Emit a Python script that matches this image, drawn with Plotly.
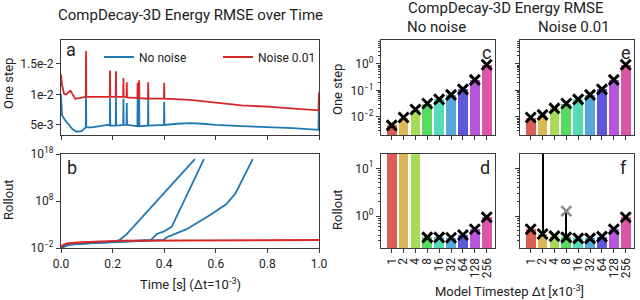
import colorsys
import plotly.graph_objects as go

# ---------------- data ----------------
# Panel a: one-step energy RMSE over time
t_blue_a = [0.0, 0.004, 0.014, 0.03, 0.045, 0.06, 0.08, 0.096, 0.097, 0.098, 0.12, 0.15, 0.18,
            0.189, 0.19, 0.191, 0.212, 0.213, 0.214, 0.241, 0.242, 0.243, 0.254, 0.255, 0.256,
            0.28, 0.296, 0.297, 0.298, 0.302, 0.303, 0.304, 0.337, 0.338, 0.339, 0.399, 0.4, 0.401,
            0.45, 0.5, 0.55, 0.6, 0.7, 0.8, 0.9, 0.998, 1.0]
e_blue_a = [0.0100, 0.0066, 0.0059, 0.0050, 0.0043, 0.0039, 0.0040, 0.0046, 0.0100, 0.0046, 0.0046, 0.0048, 0.0050,
            0.0049, 0.0094, 0.0049, 0.0049, 0.0094, 0.0049, 0.0050, 0.0093, 0.0050, 0.0050, 0.0086, 0.0050,
            0.0049, 0.0048, 0.0093, 0.0048, 0.0048, 0.0093, 0.0048, 0.0049, 0.0093, 0.0049, 0.0050, 0.0088, 0.0050,
            0.0052, 0.0053, 0.0052, 0.0050, 0.0048, 0.0047, 0.0045, 0.0042, 0.0095]
t_red_a = [0.0, 0.004, 0.012, 0.02, 0.03, 0.037, 0.045, 0.055, 0.07, 0.096, 0.097, 0.098,
           0.189, 0.19, 0.191, 0.212, 0.213, 0.214, 0.241, 0.242, 0.243, 0.254, 0.255, 0.256,
           0.296, 0.297, 0.298, 0.302, 0.303, 0.304, 0.337, 0.338, 0.339, 0.399, 0.4, 0.401,
           0.5, 0.55, 0.6, 0.7, 0.8, 0.9, 0.998, 1.0]
e_red_a = [0.0133, 0.0115, 0.0101, 0.0100, 0.0104, 0.0106, 0.0100, 0.0093, 0.0094, 0.0096, 0.0171, 0.0096,
           0.0096, 0.0139, 0.0096, 0.0096, 0.0138, 0.0096, 0.0096, 0.0127, 0.0096, 0.0095, 0.0120, 0.0095,
           0.0094, 0.0119, 0.0094, 0.0094, 0.0123, 0.0094, 0.0093, 0.0120, 0.0093, 0.0093, 0.0119, 0.0093,
           0.0091, 0.0089, 0.0086, 0.0082, 0.0080, 0.0077, 0.0074, 0.0103]

# Panel b: rollout energy RMSE over time
t_red_b = [0.0, 0.01, 0.027, 0.08, 0.23, 0.5, 1.0]
e_red_b = [0.016, 0.05, 0.1, 0.16, 0.35, 0.4, 0.5]
t_blue_b1 = [0.0, 0.03, 0.1, 0.2, 0.227, 0.254, 0.519]
e_blue_b1 = [0.011, 0.05, 0.1, 0.2, 0.5, 7.9, 7.9e16]
t_blue_b2 = [0.0, 0.03, 0.1, 0.2, 0.3, 0.348, 0.371, 0.397, 0.429, 0.554]
e_blue_b2 = [0.011, 0.05, 0.1, 0.2, 0.3, 0.5, 9.5, 30.0, 316.0, 7.9e16]
t_blue_b3 = [0.0, 0.03, 0.1, 0.2, 0.3, 0.397, 0.41, 0.487, 0.578, 0.64, 0.676, 0.743]
e_blue_b3 = [0.011, 0.05, 0.1, 0.2, 0.3, 0.5, 1.9, 100.0, 1.0e5, 2.0e7, 4.0e9, 7.9e16]

# Bar panels
timesteps = ["1", "2", "4", "8", "16", "32", "64", "128", "256"]
onestep_nonoise = [0.0048, 0.0095, 0.019, 0.032, 0.046, 0.068, 0.11, 0.25, 0.93]
onestep_noise = [0.0095, 0.012, 0.021, 0.032, 0.046, 0.068, 0.11, 0.25, 0.93]
rollout_nonoise = [1e6, 1e6, 1e6, 0.357, 0.357, 0.35, 0.40, 0.53, 0.94]
rollout_noise = [0.53, 0.42, 0.38, 0.357, 0.34, 0.34, 0.37, 0.53, 0.94]
rollout_noise_err_up = [0.0, 1e8, 0.0, 0.913, 0.0, 0.0, 0.0, 0.0, 0.0]
rollout_noise_outlier_x = ["8"]
rollout_noise_outlier_y = [1.27]

# ---------------- styles ----------------
BLUE = "#1f77b4"
RED = "#d62728"
FONT = "Roboto"
AX = "#3a3a3a"
bar_colors = []
for i in range(9):
    r, g, b = colorsys.hls_to_rgb((0.01 + i / 9) % 1, 0.6, 0.65)
    bar_colors.append("rgb(%d,%d,%d)" % (r * 255, g * 255, b * 255))

W, H = 640, 300
def px(x0, x1):
    return [x0 / W, x1 / W]
def py(top, bottom):
    return [1 - bottom / H, 1 - top / H]

fig = go.Figure()

# panel a
fig.add_trace(go.Scatter(x=t_blue_a, y=e_blue_a, mode="lines", line=dict(color=BLUE, width=1.8),
                         name="No noise", xaxis="x", yaxis="y"))
fig.add_trace(go.Scatter(x=t_red_a, y=e_red_a, mode="lines", line=dict(color=RED, width=1.8),
                         name="Noise 0.01", xaxis="x", yaxis="y"))
# panel b
for tb, eb in [(t_blue_b1, e_blue_b1), (t_blue_b2, e_blue_b2), (t_blue_b3, e_blue_b3)]:
    fig.add_trace(go.Scatter(x=tb, y=eb, mode="lines", line=dict(color=BLUE, width=1.8),
                             showlegend=False, xaxis="x2", yaxis="y2"))
fig.add_trace(go.Scatter(x=t_red_b, y=e_red_b, mode="lines", line=dict(color=RED, width=2.2),
                         showlegend=False, xaxis="x2", yaxis="y2"))

def bars(vals, xa, ya, err=None):
    kw = {}
    if err is not None:
        kw["error_y"] = dict(type="data", symmetric=False, array=err, arrayminus=[0] * len(err),
                             width=0, thickness=2, color="black")
    fig.add_trace(go.Bar(x=timesteps, y=vals, marker=dict(color=bar_colors, line=dict(width=0)),
                         width=0.82, showlegend=False, xaxis=xa, yaxis=ya, **kw))
    fig.add_trace(go.Scatter(x=timesteps, y=vals, mode="markers",
                             marker=dict(symbol="x-thin", size=10, line=dict(width=3, color="black")),
                             showlegend=False, xaxis=xa, yaxis=ya))

bars(onestep_nonoise, "x3", "y3")
bars(rollout_nonoise, "x4", "y4")
bars(onestep_noise, "x5", "y5")
bars(rollout_noise, "x6", "y6", err=rollout_noise_err_up)
fig.add_trace(go.Scatter(x=rollout_noise_outlier_x, y=rollout_noise_outlier_y, mode="markers",
                         marker=dict(symbol="x-thin", size=10, line=dict(width=2.5, color="#8a8a8a")),
                         showlegend=False, xaxis="x6", yaxis="y6"))

common = dict(showline=True, mirror=True, linecolor=AX, linewidth=1.3, ticks="outside",
              ticklen=4, tickwidth=1.2, tickcolor=AX, showgrid=False, zeroline=False,
              automargin=False, tickfont=dict(family=FONT, size=12, color="#222"))
cat = dict(type="category", range=[-0.9, 8.7], tickmode="linear", tick0=0, dtick=1)

def minor_vals(lo, hi):
    out = []
    for k in range(lo, hi):
        for m in range(2, 10):
            out.append(m * 10 ** k)
    return out

minor_c = dict(ticks="outside", ticklen=2, tickwidth=1, tickcolor=AX, tickmode="array",
               tickvals=minor_vals(-3, 1))
minor_d = dict(ticks="outside", ticklen=2, tickwidth=1, tickcolor=AX, tickmode="array",
               tickvals=minor_vals(-1, 2))

xa_ab = px(61, 319)
xa_c = px(381, 495)
xa_e = px(520, 634)
ya_top = py(40, 135)
ya_bot = py(154, 248)
tvals_t = [0, 0.2, 0.4, 0.6, 0.8, 1.0]

fig.update_layout(
    width=W, height=H, margin=dict(l=0, r=0, t=0, b=0),
    paper_bgcolor="white", plot_bgcolor="white",
    font=dict(family=FONT, size=12, color="#222"),
    bargap=0,
    xaxis=dict(domain=xa_ab, anchor="y", range=[0, 1], tickvals=tvals_t, showticklabels=False, **common),
    yaxis=dict(domain=ya_top, anchor="x", range=[0.00336, 0.0189], tickvals=[0.005, 0.01, 0.015],
               ticktext=["5e-3", "1e-2", "1.5e-2"], **common),
    xaxis2=dict(domain=xa_ab, anchor="y2", range=[0, 1], tickvals=tvals_t,
                ticktext=["0.0", "0.2", "0.4", "0.6", "0.8", "1.0"], **common),
    yaxis2=dict(domain=ya_bot, anchor="x2", type="log", range=[-2, 18], tickvals=[1e-2, 1e8, 1e18],
                ticktext=["10<sup>−2</sup>", "10<sup>8</sup>", "10<sup>18</sup>"], **common),
    xaxis3=dict(domain=xa_c, anchor="y3", showticklabels=False, **cat, **common),
    yaxis3=dict(domain=ya_top, anchor="x3", type="log", range=[-2.68, 0.9], tickvals=[0.01, 0.1, 1],
                ticktext=["10<sup>−2</sup>", "10<sup>−1</sup>", "10<sup>0</sup>"], minor=minor_c, **common),
    xaxis4=dict(domain=xa_c, anchor="y4", tickangle=-90, **cat, **common),
    yaxis4=dict(domain=ya_bot, anchor="x4", type="log", range=[-0.67, 1.3], tickvals=[1, 10],
                ticktext=["10<sup>0</sup>", "10<sup>1</sup>"], minor=minor_d, **common),
    xaxis5=dict(domain=xa_e, anchor="y5", showticklabels=False, **cat, **common),
    yaxis5=dict(domain=ya_top, anchor="x5", type="log", range=[-2.68, 0.9], tickvals=[0.01, 0.1, 1],
                showticklabels=False, minor=minor_c, **common),
    xaxis6=dict(domain=xa_e, anchor="y6", tickangle=-90, **cat, **common),
    yaxis6=dict(domain=ya_bot, anchor="x6", type="log", range=[-0.67, 1.3], tickvals=[1, 10],
                showticklabels=False, minor=minor_d, **common),
    legend=dict(orientation="h", x=99 / W, y=1 - 57 / H, xanchor="left", yanchor="middle",
                bgcolor="rgba(0,0,0,0)", font=dict(family=FONT, size=12),
                entrywidth=74, entrywidthmode="pixels", tracegroupgap=0),
)

def ann(text, x, y, size=13, angle=0):
    fig.add_annotation(text=text, x=x / W, y=1 - y / H, xref="paper", yref="paper",
                       showarrow=False, textangle=angle, xanchor="center", yanchor="middle",
                       font=dict(family=FONT, size=size, color="#222"))

ann("CompDecay-3D Energy RMSE over Time", 190, 15, 15)
ann("CompDecay-3D Energy RMSE", 506, 8, 15)
ann("No noise", 436, 27, 15)
ann("Noise 0.01", 574, 27, 15)
ann("One step", 8, 84, 13, -90)
ann("Rollout", 8, 200, 13, -90)
ann("One step", 337, 90, 13, -90)
ann("Rollout", 337, 210, 13, -90)
ann("Time [s] (Δt=10<sup>-3</sup>)", 190, 284, 13)
ann("Model Timestep Δt [x10<sup>-3</sup>]", 509, 291, 13)
for letter, x, y in [("a", 71, 50), ("b", 72, 167), ("c", 486, 52), ("d", 485, 167),
                     ("e", 626, 52), ("f", 623, 167)]:
    ann(letter, x, y, 18)

fig.write_html("out.html", config={"displayModeBar": False},
               post_script="document.body.style.margin='0';document.body.style.padding='0';"
                           "document.documentElement.style.overflow='hidden';")
